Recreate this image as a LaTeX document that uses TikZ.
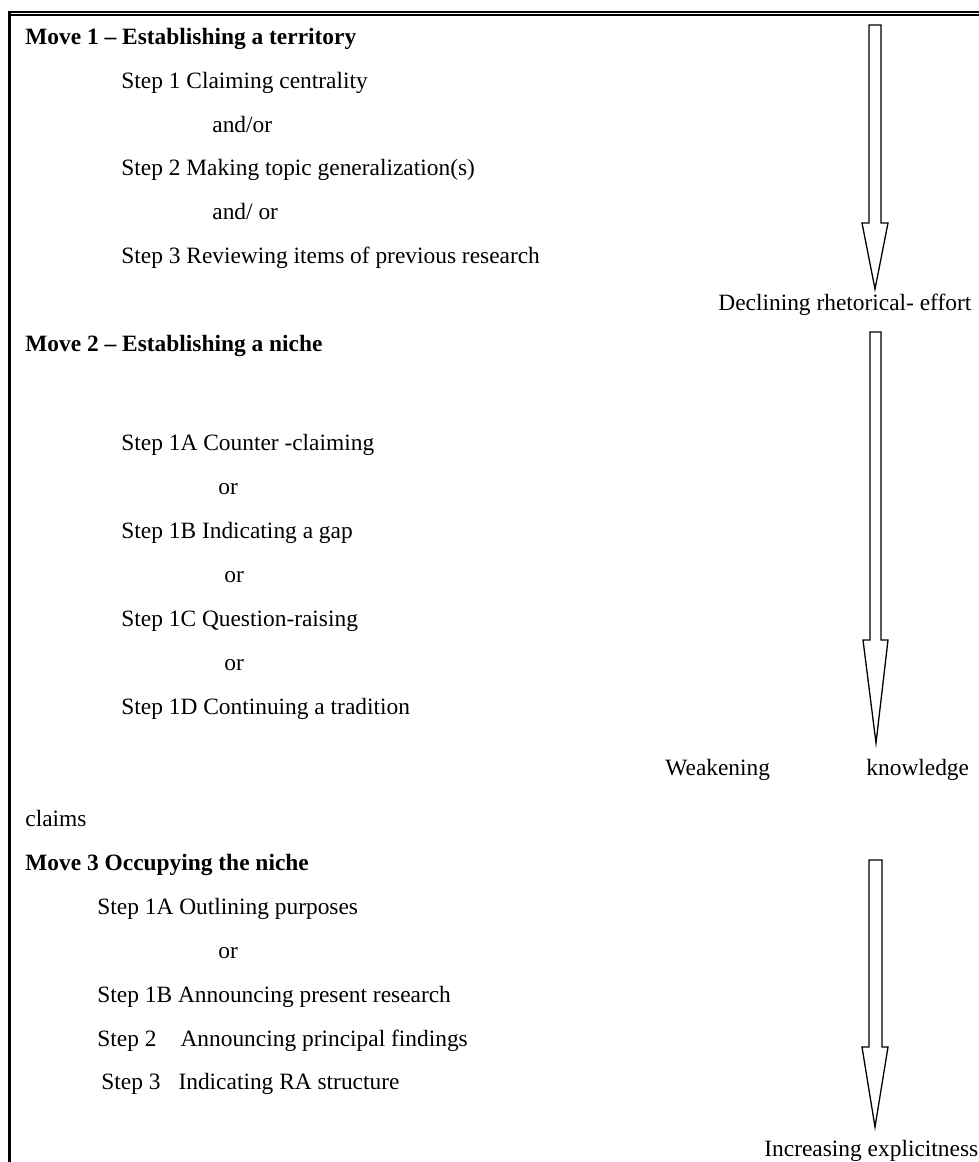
\documentclass[tikz,border=0pt]{standalone}
\usepackage{fontspec}
\setmainfont{Liberation Serif}
\usetikzlibrary{positioning}
\tikzset{
  txt/.style={anchor=base west, inner sep=0pt, font=\fontsize{11.7}{14}\selectfont},
  movehd/.style={txt, font=\fontsize{11.7}{14}\selectfont\bfseries},
  blkarrow/.style={draw, line width=0.65pt, line join=miter, fill=white},
  rule/.style={line cap=butt},
}

\begin{document}
\begin{tikzpicture}[x=0.5pt, y=-0.5pt]
    \useasboundingbox (0,0) rectangle (979,1162);
    % frame
    \draw[rule, line width=1pt] (8,11.8) -- (979,11.8);
    \draw[rule, line width=0.75pt] (11,15) -- (979,15);
    \draw[rule, line width=1.5pt] (9.5,10.8) -- (9.5,1162);
    % move 1
    \node[movehd] (mv1) at (25,44) {Move 1 -- Establishing a territory};
    \node[txt] (m1s1) at (121,88) {Step 1 Claiming centrality};
    \node[txt] (m1o1) at (212,132) {and/or};
    \node[txt] (m1s2) at (121,175) {Step 2 Making topic generalization(s)};
    \node[txt] (m1o2) at (212,219) {and/ or};
    \node[txt] (m1s3) at (121,263) {Step 3 Reviewing items of previous research};
    \node[txt] (effort) at (718,310) {Declining rhetorical- effort};
    % move 2
    \node[movehd] (mv2) at (25,351) {Move 2 -- Establishing a niche};
    \node[txt] (m2s1a) at (121,450) {Step 1A Counter -claiming};
    \node[txt] (m2o1) at (218,494) {or};
    \node[txt] (m2s1b) at (121,538) {Step 1B Indicating a gap};
    \node[txt] (m2o2) at (224,582) {or};
    \node[txt] (m2s1c) at (121,626) {Step 1C Question-raising};
    \node[txt] (m2o3) at (224,670) {or};
    \node[txt] (m2s1d) at (121,714) {Step 1D Continuing a tradition};
    \node[txt] (weak) at (665,775) {Weakening};
    \node[txt] (knowl) at (866,775) {knowledge};
    \node[txt] (claims) at (25,826) {claims};
    % move 3
    \node[movehd] (mv3) at (25,870) {Move 3 Occupying the niche};
    \node[txt] (m3s1a) at (97,914) {Step 1A Outlining purposes};
    \node[txt] (m3o1) at (218,958) {or};
    \node[txt] (m3s1b) at (97,1002) {Step 1B Announcing present research};
    \node[txt] (m3s2) at (97,1046) {Step 2\hspace{12pt}Announcing principal findings};
    \node[txt] (m3s3) at (101,1089) {Step 3\hspace{9pt}Indicating RA structure};
    \node[txt] (explicit) at (764,1156) {Increasing explicitness};
    % hollow arrows
    \draw[blkarrow] (869,25) -- (881,25) -- (881,223) -- (888,223) -- (875,289)
      -- (862,223) -- (869,223) -- cycle;
    \draw[blkarrow] (870,332) -- (881,332) -- (881,640) -- (888,640) -- (876,743)
      -- (863,640) -- (870,640) -- cycle;
    \draw[blkarrow] (869,860) -- (882,860) -- (882,1047) -- (888,1047) -- (875,1127)
      -- (862,1047) -- (869,1047) -- cycle;
\end{tikzpicture}
\end{document}
